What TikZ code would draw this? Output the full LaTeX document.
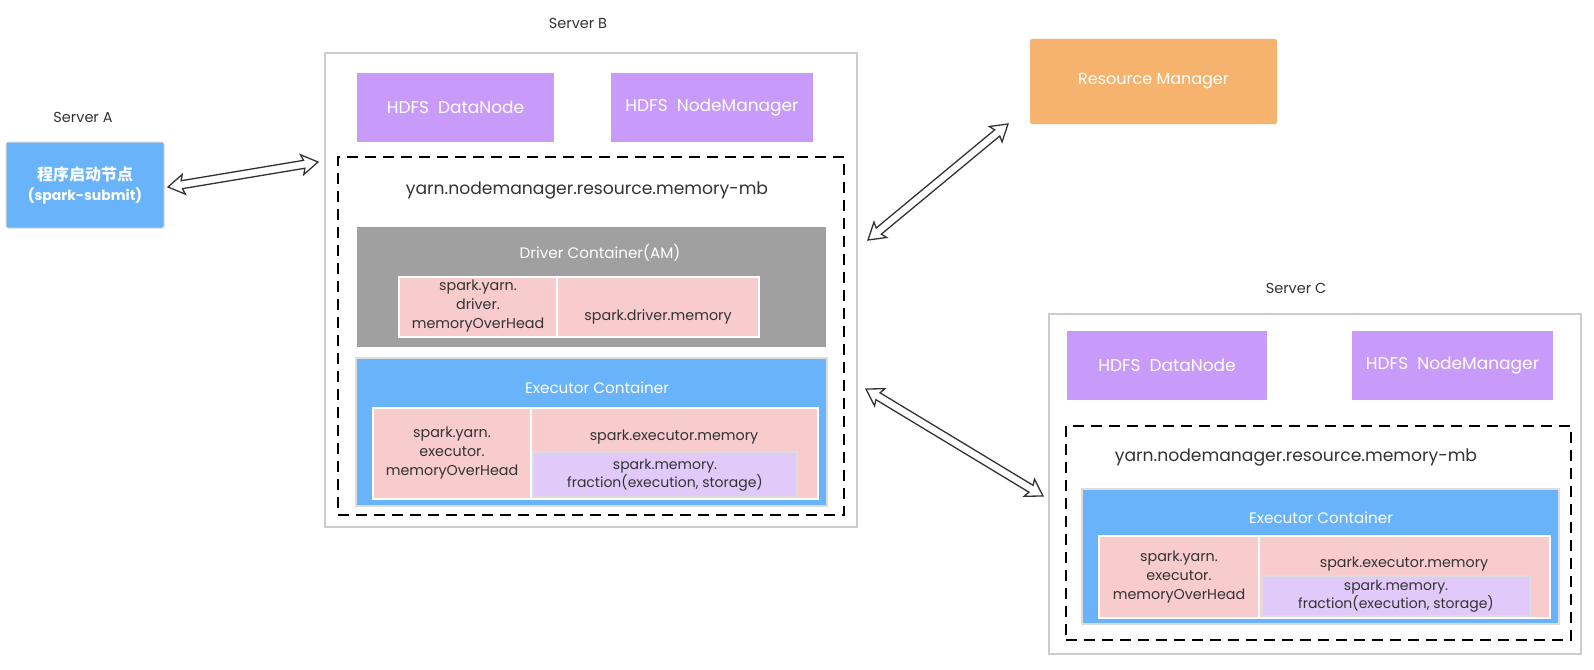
\documentclass[tikz,border=0pt]{standalone}
\usepackage{fontspec}
\setmainfont{Poppins}
\newfontfamily\cjk{Noto Sans CJK SC}
\usetikzlibrary{calc}
\definecolor{txt}{HTML}{333333}
\definecolor{bluebox}{HTML}{68B3FA}
\definecolor{purp}{HTML}{C89AF9}
\definecolor{orng}{HTML}{F6B36E}
\definecolor{graybox}{HTML}{A0A0A0}
\definecolor{pinkbox}{HTML}{F8CBCC}
\definecolor{lav}{HTML}{E1CAF9}
\definecolor{srvline}{HTML}{CCCCCC}
\definecolor{lightline}{HTML}{DCDCDC}
% hollow double-headed arrow between two named points
\newcommand\hollowarrow[2]{%
  \path let \p1=(#1), \p2=(#2) in \pgfextra{%
    \pgfmathsetmacro\arrang{atan2(\y2-\y1,\x2-\x1)}%
    \pgfmathsetmacro\arrlen{veclen(\x2-\x1,\y2-\y1)}%
    \xdef\arrang{\arrang}\xdef\arrlen{\arrlen}%
    \xdef\arrx{\x1}\xdef\arry{\y1}};
  \draw[hollow, shift={(\arrx,\arry)}, rotate=\arrang]
    (0,0) -- (16,10) -- (14,4) -- ({\arrlen-14},4) -- ({\arrlen-16},10)
    -- ({\arrlen},0) -- ({\arrlen-16},-10) -- ({\arrlen-14},-4)
    -- (14,-4) -- (16,-10) -- cycle;
}
\begin{document}
\begin{tikzpicture}[x=1pt,y=-1pt,
  every node/.style={inner sep=0pt, outer sep=0pt},
  wh/.style 2 args={minimum width=#1pt, minimum height=#2pt},
  lbl/.style={text=txt, font=\fontsize{14.5}{17}\selectfont},
  server/.style={draw=srvline, line width=1.2pt, fill=white},
  dashbox/.style={draw=black, line width=2.8pt, dash pattern=on 11pt off 7pt},
  hdfs/.style={fill=purp, text=white, font=\fontsize{17}{19}\selectfont},
  rmbox/.style={fill=orng, text=white, rounded corners=2pt, font=\fontsize{16}{19}\selectfont},
  clientbox/.style={fill=bluebox, draw=lightline, line width=1pt, rounded corners=2pt, text=white, align=center, font=\fontsize{14}{20}\selectfont},
  yarntxt/.style={text=txt, font=\fontsize{17.2}{20}\selectfont},
  drvbox/.style={fill=graybox},
  excbox/.style={fill=bluebox, draw=lightline, line width=1.5pt},
  ctitle/.style={text=white, font=\fontsize{15.2}{17}\selectfont},
  pinkcell/.style={fill=pinkbox, draw=white, line width=1.6pt},
  lavcell/.style={fill=lav, draw=lightline, line width=1.5pt},
  celltxt/.style={text=txt, align=center, font=\fontsize{14.3}{19}\selectfont},
  lavtxt/.style={text=txt, align=center, font=\fontsize{14}{16.5}\selectfont},
  hollow/.style={draw=black!80, line width=1.3pt, fill=white, line join=miter}
]
\fill[white] (0,0) rectangle (1594,669);
\useasboundingbox (0,0) rectangle (1594,669);

% Server A
\node[lbl] (lblA) at (83,117) {Server A};
\node[clientbox, wh={158}{86}] (sa) at (85,185) {{\cjk\bfseries\fontsize{16}{20}\selectfont 程序启动节点}\\\bfseries(spark-submit)};

% Server B
\node[lbl] (lblB) at (578,23) {Server B};
\node[server, wh={532}{474}] (sb) at (591,290) {};
\node[hdfs, wh={197}{69}] (bdn) at (455.5,107.5) {HDFS~~DataNode};
\node[hdfs, wh={202}{69}] (bnm) at (712,107.5) {HDFS~~NodeManager};
\node[dashbox, wh={506}{358}] (bdash) at (591,336) {};
\node[yarntxt] (byarn) at (587,190) {yarn.nodemanager.resource.memory-mb};

\node[drvbox, wh={469}{120}] (drv) at (591.5,287) {};
\node[ctitle] (drvt) at (600,253) {Driver Container(AM)};
\node[pinkcell, wh={158}{60}] (dl) at (478,307) {};
\node[celltxt] (dlt) at (478,306) {spark.yarn.\\driver.\\memoryOverHead};
\node[pinkcell, wh={202}{60}] (dr) at (658,307) {};
\node[celltxt] (drt) at (658,317) {spark.driver.memory};

\node[excbox, wh={471}{148}] (exb) at (591.5,432) {};
\node[ctitle] (exbt) at (597,388) {Executor Container};
\node[pinkcell, wh={158}{91}] (bel) at (452,453.5) {};
\node[celltxt] (belt) at (452,453) {spark.yarn.\\executor.\\memoryOverHead};
\node[pinkcell, wh={287}{91}] (ber) at (674.5,453.5) {};
\node[celltxt] (bert) at (674,437) {spark.executor.memory};
\node[lavcell, wh={264}{45}] (blav) at (665,474.5) {};
\node[lavtxt] (blavt) at (665,475) {spark.memory.\\fraction(execution, storage)};

% Resource Manager
\node[rmbox, wh={247}{85}] (rm) at (1153.5,81.5) {Resource Manager};

% Server C
\node[lbl] (lblC) at (1296,288) {Server C};
\node[server, wh={532}{340}] (sc) at (1315,484) {};
\node[hdfs, wh={200}{69}] (cdn) at (1167,365.5) {HDFS~~DataNode};
\node[hdfs, wh={201}{69}] (cnm) at (1452.5,365.5) {HDFS~~NodeManager};
\node[dashbox, wh={505}{214}] (cdash) at (1318.5,533) {};
\node[yarntxt] (cyarn) at (1296,457) {yarn.nodemanager.resource.memory-mb};

\node[excbox, wh={477}{135}] (exc) at (1320.5,556.5) {};
\node[ctitle] (exct) at (1321,518) {Executor Container};
\node[pinkcell, wh={160}{82}] (cel) at (1179,577) {};
\node[celltxt] (celt) at (1179,577) {spark.yarn.\\executor.\\memoryOverHead};
\node[pinkcell, wh={291}{82}] (cer) at (1404.5,577) {};
\node[celltxt] (cert) at (1404,564) {spark.executor.memory};
\node[lavcell, wh={268}{40}] (clav) at (1396,596) {};
\node[lavtxt] (clavt) at (1396,596) {spark.memory.\\fraction(execution, storage)};

% connectors
\coordinate (ab1) at (168,187);
\coordinate (ab2) at (318,162);
\coordinate (br1) at (868,240);
\coordinate (br2) at (1008,124);
\coordinate (bc1) at (866,389);
\coordinate (bc2) at (1043,496);
\hollowarrow{ab1}{ab2}
\hollowarrow{br1}{br2}
\hollowarrow{bc1}{bc2}
\end{tikzpicture}
\end{document}
